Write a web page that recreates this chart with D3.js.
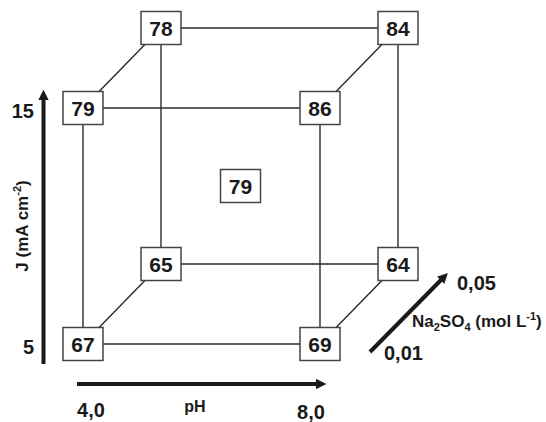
<!DOCTYPE html>
<html>
<head>
<meta charset="utf-8">
<script src="https://cdn.jsdelivr.net/npm/d3@7"></script>
<style>
  body { margin: 0; background: #fff; }
  svg { font-family: "Liberation Sans", Arial, sans-serif; font-weight: bold; }
</style>
</head>
<body>
<svg width="546" height="422"></svg>
<script>
// factorial design points (pH, J, Na2SO4) and response
const pH = [4, 8, 4, 8, 4, 8, 4, 8, 6];
const J = [5, 5, 15, 15, 5, 5, 15, 15, 10];
const Na = [0.01, 0.01, 0.01, 0.01, 0.05, 0.05, 0.05, 0.05, 0.03];
const resp = [67, 69, 79, 86, 65, 64, 78, 84, 79];

// cube edges as index pairs
const edges = [[0, 1], [2, 3], [4, 5], [6, 7], [0, 2], [1, 3], [4, 6], [5, 7], [0, 4], [1, 5], [2, 6], [3, 7]];

const pHTicks = [4, 8], pHLabels = ["4,0", "8,0"];
const JTicks = [5, 15], JLabels = ["5", "15"];
const NaTicks = [0.01, 0.05], NaLabels = ["0,01", "0,05"];

const svg = d3.select("svg");

const x = d3.scaleLinear().domain([4, 8]).range([83, 320]);
const y = d3.scaleLinear().domain([5, 15]).range([344, 108]);
const depth = d3.scaleLinear().domain([0.01, 0.05]).range([0, 1]);
const dx = 78, dy = -80;

const pts = resp.map((v, i) => ({
  x: x(pH[i]) + depth(Na[i]) * dx,
  y: y(J[i]) + depth(Na[i]) * dy,
  v: v
}));

// edges
svg.append("g").selectAll("line")
  .data(edges)
  .enter()
  .append("line")
  .attr("x1", d => pts[d[0]].x).attr("y1", d => pts[d[0]].y)
  .attr("x2", d => pts[d[1]].x).attr("y2", d => pts[d[1]].y)
  .attr("stroke", "#2a2a2a")
  .attr("stroke-width", 1.4);

// boxes
const bw = 40, bh = 33;
const box = svg.append("g").selectAll("g")
  .data(pts)
  .enter()
  .append("g")
  .attr("transform", d => "translate(" + d.x + "," + d.y + ")");
box.append("rect")
  .attr("x", -bw / 2).attr("y", -bh / 2)
  .attr("width", bw).attr("height", bh)
  .attr("fill", "#fff")
  .attr("stroke", "#444")
  .attr("stroke-width", 1.5);
box.append("text")
  .attr("text-anchor", "middle")
  .attr("y", 8)
  .attr("font-size", "21px")
  .attr("fill", "#1a1a1a")
  .text(d => d.v);

// arrow marker
svg.append("defs").append("marker")
  .attr("id", "head")
  .attr("viewBox", "0 0 10 10")
  .attr("refX", 2).attr("refY", 5)
  .attr("markerWidth", 2.6).attr("markerHeight", 2.6)
  .attr("markerUnits", "strokeWidth")
  .attr("orient", "auto")
  .append("path")
  .attr("d", "M0,0L10,5L0,10z")
  .attr("fill", "#1a1a1a");

function arrow(x1, y1, x2, y2) {
  svg.append("line")
    .attr("x1", x1).attr("y1", y1).attr("x2", x2).attr("y2", y2)
    .attr("stroke", "#1a1a1a")
    .attr("stroke-width", 4)
    .attr("marker-end", "url(#head)");
}

// J axis (vertical)
arrow(43.5, 364, 43.5, 98);
svg.selectAll(".jt")
  .data(JTicks)
  .enter()
  .append("text")
  .attr("class", "jt")
  .attr("x", 34)
  .attr("y", d => y(d) + 10)
  .attr("text-anchor", "end")
  .attr("font-size", "20px")
  .attr("fill", "#1a1a1a")
  .text((d, i) => JLabels[i]);
const jl = svg.append("text")
  .attr("transform", "translate(28,226) rotate(-90)")
  .attr("text-anchor", "middle")
  .attr("font-size", "17px")
  .attr("fill", "#1a1a1a");
jl.append("tspan").text("J (mA cm");
jl.append("tspan").attr("font-size", "11px").attr("dy", -7).text("-2");
jl.append("tspan").attr("dy", 7).text(")");

// pH axis (horizontal)
arrow(77, 384, 318, 384);
const xt = d3.scaleLinear().domain([4, 8]).range([91, 311]);
svg.selectAll(".pt")
  .data(pHTicks)
  .enter()
  .append("text")
  .attr("class", "pt")
  .attr("x", d => xt(d))
  .attr("y", (d, i) => 417 + i * 2)
  .attr("text-anchor", "middle")
  .attr("font-size", "20px")
  .attr("fill", "#1a1a1a")
  .text((d, i) => pHLabels[i]);
svg.append("text")
  .attr("x", 195).attr("y", 412)
  .attr("text-anchor", "middle")
  .attr("font-size", "16px")
  .attr("fill", "#1a1a1a")
  .text("pH");

// Na2SO4 axis (diagonal)
arrow(370, 352, 442, 279);
const nt = d3.scaleLinear().domain([0.01, 0.05]).range([0, 1]);
svg.selectAll(".nt")
  .data(NaTicks)
  .enter()
  .append("text")
  .attr("class", "nt")
  .attr("x", d => 384 + nt(d) * 73)
  .attr("y", d => 360 - nt(d) * 70)
  .attr("font-size", "20px")
  .attr("fill", "#1a1a1a")
  .text((d, i) => NaLabels[i]);
const nl = svg.append("text")
  .attr("x", 412).attr("y", 327)
  .attr("font-size", "17px")
  .attr("fill", "#1a1a1a");
nl.append("tspan").text("Na");
nl.append("tspan").attr("font-size", "11px").attr("dy", 4).text("2");
nl.append("tspan").attr("dy", -4).text("SO");
nl.append("tspan").attr("font-size", "11px").attr("dy", 4).text("4");
nl.append("tspan").attr("dy", -4).text(" (mol L");
nl.append("tspan").attr("font-size", "11px").attr("dy", -7).text("-1");
nl.append("tspan").attr("dy", 7).text(")");
</script>
</body>
</html>
